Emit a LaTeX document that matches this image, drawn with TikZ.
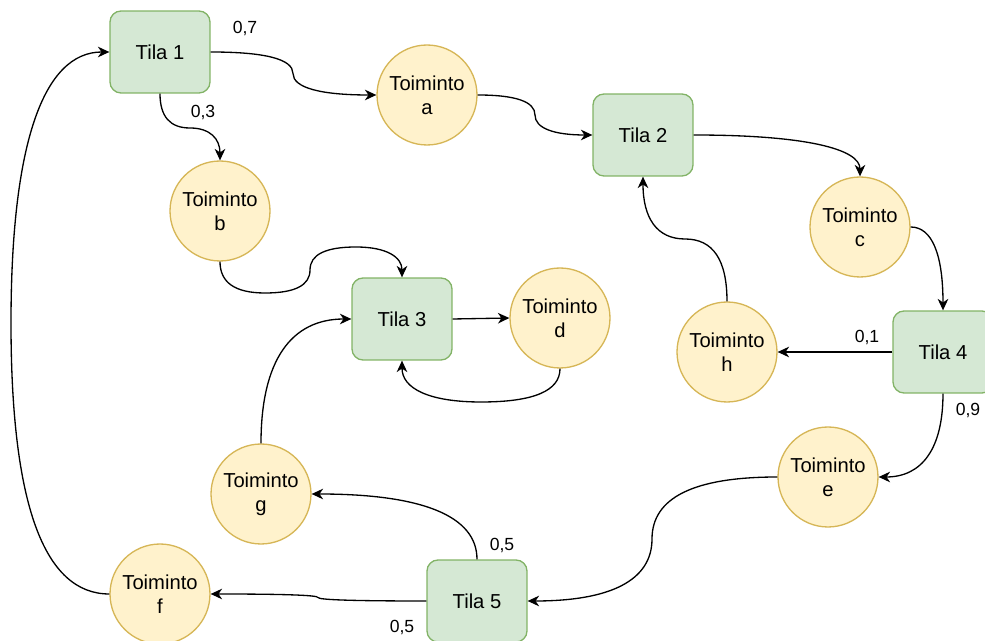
\documentclass[tikz,border=0pt]{standalone}
\usepackage{fontspec}
\setmainfont{Liberation Sans}
\usetikzlibrary{arrows.meta,calc}
\definecolor{tilafill}{HTML}{D5E8D4}
\definecolor{tiladraw}{HTML}{82B366}
\definecolor{actfill}{HTML}{FFF2CC}
\definecolor{actdraw}{HTML}{D6B656}
\tikzset{
  tila/.style={draw=tiladraw, fill=tilafill, line width=0.75pt, rounded corners=0.22cm,
    minimum width=2cm, minimum height=1.64cm, inner sep=0pt,
    font=\fontsize{11.5}{13.8}\selectfont},
  act/.style={draw=actdraw, fill=actfill, line width=0.75pt, circle, minimum size=2cm,
    inner sep=0pt, align=center, font=\fontsize{11.5}{13.8}\selectfont},
  arr/.style={line width=0.75pt, -{Stealth[length=6.5pt,width=6pt,inset=2pt]}},
  lbl/.style={font=\fontsize{10}{12}\selectfont, inner sep=0pt},
  qto/.style n args={3}{insert path={.. controls ($(#1)!0.6667!(#2)$) and ($(#3)!0.6667!(#2)$) .. (#3)}}
}
\begin{document}
\begin{tikzpicture}[x=0.02cm, y=-0.02cm]
\useasboundingbox (0,0) rectangle (985,641);
% nodes
\node[tila] (t1) at (160,52) {Tila 1};
\node[tila] (t2) at (643,135) {Tila 2};
\node[tila] (t3) at (402,319) {Tila 3};
\node[tila] (t4) at (943,352) {Tila 4};
\node[tila] (t5) at (477,601) {Tila 5};
\node[act] (a) at (427,95) {Toiminto\\a};
\node[act] (b) at (220,211) {Toiminto\\b};
\node[act] (c) at (860,227) {Toiminto\\c};
\node[act] (d) at (560,318) {Toiminto\\d};
\node[act] (e) at (828,477) {Toiminto\\e};
\node[act] (f) at (160,594) {Toiminto\\f};
\node[act] (g) at (261,494) {Toiminto\\g};
\node[act] (h) at (727,352) {Toiminto\\h};
% edges
\draw[arr] (t1.east) [qto={t1.east}{293,52}{293,73.5}] [qto={293,73.5}{293,95}{a.west}];
\draw[arr] (t1.south) [qto={t1.south}{160,128}{190,128}] [qto={190,128}{220,128}{b.north}];
\draw[arr] (a.east) [qto={a.east}{535,95}{535,115}] [qto={535,115}{535,135}{t2.west}];
\draw[arr] (t2.east) [qto={t2.east}{860,135}{c.north}];
\draw[arr] (c.east) [qto={c.east}{943,227}{t4.north}];
\draw[arr] (t4.west) -- (h.east);
\draw[arr] (h.north) [qto={h.north}{727,239}{685,239}] [qto={685,239}{643,239}{t2.south}];
\draw[arr] (t4.south) [qto={t4.south}{943,477}{e.east}];
\draw[arr] (e.west) [qto={e.west}{652,477}{652,539}] [qto={652,539}{652,601}{t5.east}];
\draw[arr] (t5.north) [qto={t5.north}{477,494}{g.east}];
\draw[arr] (t5.west) [qto={t5.west}{318,601}{318,597.5}] [qto={318,597.5}{318,594}{f.east}];
\draw[arr] (f.west) [qto={f.west}{11,594}{11,323}] [qto={11,323}{11,52}{t1.west}];
\draw[arr] (g.north) [qto={g.north}{261,319}{t3.west}];
\draw[arr] (b.south) [qto={b.south}{220,293}{265,293}] [qto={265,293}{310,293}{310,270}]
  [qto={310,270}{310,247}{356,247}] [qto={356,247}{402,247}{t3.north}];
\draw[arr] (t3.east) -- (d.west);
\draw[arr] (d.south) [qto={d.south}{560,402}{481,402}] [qto={481,402}{402,402}{t3.south}];
% labels
\node[lbl] (l07) at (245,28) {0,7};
\node[lbl] (l03) at (203,112) {0,3};
\node[lbl] (l01) at (867,337) {0,1};
\node[lbl] (l09) at (968,410) {0,9};
\node[lbl] (l05a) at (502,545) {0,5};
\node[lbl] (l05b) at (402,627) {0,5};
\end{tikzpicture}
\end{document}
